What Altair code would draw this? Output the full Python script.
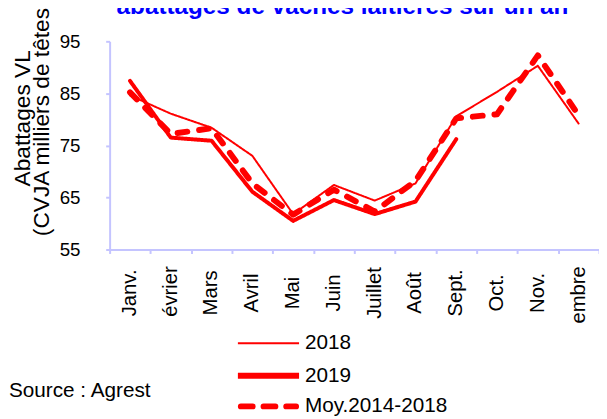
import altair as alt
import pandas as pd

months = ["Janv.", "Février", "Mars", "Avril", "Mai", "Juin", "Juillet", "Août",
          "Sept.", "Oct.", "Nov.", "Décembre"]
series = ["2018", "2019", "Moy.2014-2018"]
v2018 = [84.6, 81.1, 78.4, 73.0, 61.8, 67.4, 64.4, 67.7, 80.6, 85.3, 90.3, 79.2]
v2019 = [87.4, 76.5, 75.9, 66.1, 60.5, 64.5, 61.8, 64.2, 76.2, None, None, None]
vmoy = [85.2, 77.2, 78.3, 67.7, 61.7, 66.5, 62.3, 68.2, 80.2, 81.0, 92.3, 80.8]
y_ticks = [55, 65, 75, 85, 95]
title_text = "abattages de vaches laitières sur un an"
y_title_1 = "Abattages VL"
y_title_2 = "(CVJA milliers de têtes)"
source_text = "Source : Agreste"
long_labels = ["Février", "Décembre"]

FONT = "Liberation Sans"
RED = "#ff0000"
AXC = "#c4c4ff"

rows = []
for s, vals in zip(series, [v2018, v2019, vmoy]):
    for m, v in zip(months, vals):
        if v is not None:
            rows.append({"month": m, "series": s, "value": v})
df = pd.DataFrame(rows)

x_enc = alt.X(
    "month:N",
    scale=alt.Scale(type="band", domain=months, paddingInner=0, paddingOuter=0),
    bandPosition=0.5,
    axis=alt.Axis(labels=False, title=None, tickBand="extent", domainColor=AXC,
                  domainWidth=2, tickColor=AXC, tickWidth=2, tickSize=4, grid=False),
)

lines = alt.Chart(df).mark_line(strokeCap="round", strokeJoin="round").encode(
    x=x_enc,
    y=alt.Y("value:Q", scale=alt.Scale(domain=[55, 95], nice=False, zero=False),
            axis=alt.Axis(values=y_ticks, title=None, grid=False, domainColor=AXC,
                          domainWidth=2, tickColor=AXC, tickWidth=2, tickSize=4,
                          labelFont=FONT, labelFontSize=19, labelColor="black",
                          labelPadding=26)),
    color=alt.Color("series:N", scale=alt.Scale(domain=series, range=[RED] * 3), legend=None),
    strokeWidth=alt.StrokeWidth("series:N", scale=alt.Scale(domain=series, range=[2, 6, 6]),
                                legend=None),
    strokeDash=alt.StrokeDash("series:N",
                              scale=alt.Scale(domain=series, range=[[1, 0], [1, 0], [10, 12]]),
                              legend=None),
    detail="series:N",
)

mdf = pd.DataFrame({"month": months})
labels_center = alt.Chart(mdf).transform_filter(
    alt.FieldOneOfPredicate(field="month", oneOf=long_labels).__invert__()
).mark_text(angle=270, align="center", baseline="middle", font=FONT, fontSize=20.5,
            color="black").encode(x=x_enc, y=alt.value(255), text="month:N")

labels_long = alt.Chart(mdf).transform_filter(
    alt.FieldOneOfPredicate(field="month", oneOf=long_labels)
).mark_text(angle=270, align="right", baseline="middle", font=FONT, fontSize=20.5,
            color="black", limit=62, dir="rtl", ellipsis="\u200b").encode(
    x=x_enc, y=alt.value(228), text="month:N")

tdf = pd.DataFrame({"t": [title_text]})
title = alt.Chart(tdf).mark_text(align="center", baseline="alphabetic", font=FONT,
                                 fontSize=24.6, fontWeight="bold", color="#0000ff").encode(
    x=alt.value(236), y=alt.value(-28), text="t:N")

ydf1 = pd.DataFrame({"t": [y_title_1]})
ydf2 = pd.DataFrame({"t": [y_title_2]})
ytitle1 = alt.Chart(ydf1).mark_text(angle=270, align="center", baseline="middle", font=FONT,
                                    fontSize=23, color="black").encode(
    x=alt.value(-88), y=alt.value(78), text="t:N")
ytitle2 = alt.Chart(ydf2).mark_text(angle=270, align="center", baseline="middle", font=FONT,
                                    fontSize=23, color="black").encode(
    x=alt.value(-68), y=alt.value(78), text="t:N")

sdf = pd.DataFrame({"t": [source_text]})
source = alt.Chart(sdf).mark_text(align="left", baseline="middle", font=FONT, fontSize=21,
                                  color="black", limit=150, ellipsis="\u200b").encode(
    x=alt.value(-102), y=alt.value(354), text="t:N")

legend_layers = []
leg_y = [306, 339, 370]
leg_w = [2, 6, 6]
leg_dash = [[1, 0], [1, 0], [12, 11]]
for s, yy, w, d in zip(series, leg_y, leg_w, leg_dash):
    ldf = pd.DataFrame({"series": [s]})
    solid = d == [1, 0]
    legend_layers.append(
        alt.Chart(ldf).mark_rule(color=RED, strokeWidth=w, strokeDash=d,
                                 strokeCap="butt" if solid else "round").encode(
            x=alt.value(130 if solid else 133), x2=alt.value(192 if solid else 189),
            y=alt.value(yy))
    )
    legend_layers.append(
        alt.Chart(ldf).mark_text(align="left", baseline="middle", font=FONT, fontSize=21,
                                 color="black").encode(
            x=alt.value(198), y=alt.value(yy), text="series:N")
    )

chart = alt.layer(lines, labels_center, labels_long, title, ytitle1, ytitle2, source,
                  *legend_layers).properties(
    width=496, height=211,
    autosize=alt.AutoSizeParams(type="none"),
    padding={"left": 103, "top": 31, "right": 0, "bottom": 169},
    background="white",
).configure_view(stroke=None)

chart.save("out.html", embed_options={"renderer": "svg", "actions": False})
